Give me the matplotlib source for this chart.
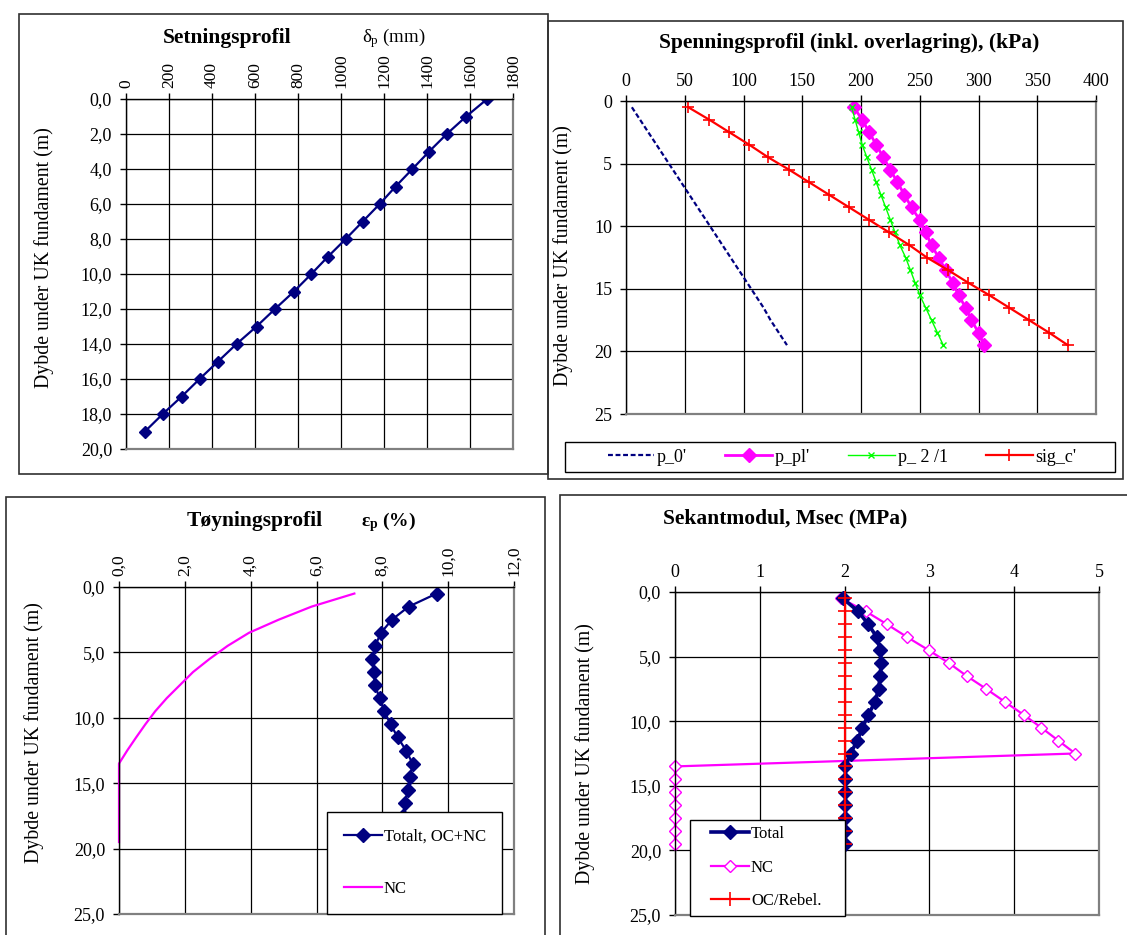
import matplotlib
matplotlib.use('Agg')
import matplotlib.pyplot as plt
from matplotlib.patches import Rectangle
from matplotlib.ticker import FuncFormatter, MultipleLocator

plt.rcParams['font.family'] = ['Liberation Serif', 'DejaVu Serif']
plt.rcParams['mathtext.fontset'] = 'custom'
plt.rcParams['mathtext.rm'] = 'Liberation Serif'
plt.rcParams['mathtext.it'] = 'Liberation Serif:italic'
plt.rcParams['mathtext.bf'] = 'Liberation Serif:bold'

# ---------------- data ----------------
# Setningsprofil
setning_depth = [0, 1, 2, 3, 4, 5, 6, 7, 8, 9, 10, 11, 12, 13, 14, 15, 16, 17, 18, 19]
setning_mm = [1680, 1582, 1492, 1410, 1332, 1254, 1180, 1101, 1022, 940,
              862, 781, 693, 607, 514, 428, 342, 259, 171, 88]

# Spenningsprofil
layer_depth = [0.5, 1.5, 2.5, 3.5, 4.5, 5.5, 6.5, 7.5, 8.5, 9.5,
               10.5, 11.5, 12.5, 13.5, 14.5, 15.5, 16.5, 17.5, 18.5, 19.5]
p0 = [5, 12, 19, 26, 33, 40, 47, 54, 61, 68, 75, 82, 89, 96, 103, 110, 117, 123, 130, 137]
ppl = [194, 201, 207, 213, 219, 225, 231, 237, 243, 250,
       255, 260, 266, 272, 278, 283, 289, 294, 300, 305]
p21 = [192, 195, 198, 201, 205, 209, 213, 217, 221, 225,
       229, 233, 238, 242, 246, 250, 255, 260, 265, 270]
sigc = [53, 71, 88, 105, 121, 139, 156, 173, 190, 207,
        224, 241, 256, 274, 291, 309, 326, 343, 360, 376]

# Toyningsprofil
strain_total = [9.65, 8.80, 8.29, 7.96, 7.78, 7.70, 7.75, 7.77, 7.92, 8.06,
                8.25, 8.47, 8.72, 8.92, 8.84, 8.77, 8.69, 8.63, 8.60, 8.58]
strain_nc = [7.15, 5.85, 4.85, 3.95, 3.30, 2.75, 2.25, 1.85, 1.45, 1.10,
             0.80, 0.52, 0.25, 0.0, 0.0, 0.0, 0.0, 0.0, 0.0, 0.0]

# Sekantmodul
msec_total = [1.98, 2.16, 2.28, 2.38, 2.42, 2.43, 2.42, 2.40, 2.36, 2.28,
              2.21, 2.15, 2.07, 2.01, 2.01, 2.01, 2.01, 2.01, 2.01, 2.01]
msec_nc = [1.96, 2.25, 2.50, 2.74, 2.99, 3.23, 3.44, 3.67, 3.89, 4.11,
           4.32, 4.52, 4.72, 0.0, 0.0, 0.0, 0.0, 0.0, 0.0, 0.0]
msec_oc = [2.0, 2.0, 2.0, 2.0, 2.0, 2.0, 2.0, 2.0, 2.0, 2.0,
           2.0, 2.0, 2.0, 2.0, 2.0, 2.0, 2.0, 2.0, 2.0, 2.0]

# ---------------- layout helpers ----------------
W, H = 1127, 935
fig = plt.figure(figsize=(W / 100, H / 100), dpi=100)
fig.patch.set_facecolor('white')


def rect(l, t, r, b):
    return [l / W, 1 - b / H, (r - l) / W, (b - t) / H]


def fx(x):
    return x / W


def fy(y):
    return 1 - y / H


def frame(l, t, r, b, color='#303030'):
    fig.patches.append(Rectangle((fx(l), fy(b)), (r - l) / W, (b - t) / H,
                                 transform=fig.transFigure, fill=False,
                                 edgecolor=color, lw=1.2, zorder=0))


def legend_box(ax, l, t, r, b):
    ax.add_patch(Rectangle((fx(l), fy(b)), (r - l) / W, (b - t) / H,
                           transform=fig.transFigure, facecolor='white',
                           edgecolor='black', lw=1.0, zorder=4.9,
                           clip_on=False))


NAVY = '#000080'
MAG = '#FF00FF'
GREEN = '#00FF00'
RED = '#FF0000'
TICK_FS = 13
TITLE_FS = 15.5
YLAB_FS = 14.3
comma = FuncFormatter(lambda v, p: f'{v:.1f}'.replace('.', ','))


def style(ax, rot=False):
    ax.set_axisbelow(True)
    ax.grid(True, color='black', lw=0.9)
    for s in ['right', 'bottom']:
        ax.spines[s].set_color('#808080')
        ax.spines[s].set_linewidth(1.6)
    for s in ['left', 'top']:
        ax.spines[s].set_color('black')
        ax.spines[s].set_linewidth(1.0)
    ax.xaxis.tick_top()
    ax.tick_params(axis='x', top=True, bottom=False, labeltop=True,
                   labelbottom=False, direction='out', length=4, width=1,
                   pad=4, labelsize=(12.5 if rot else TICK_FS),
                   labelrotation=(90 if rot else 0))
    ax.tick_params(axis='y', left=True, right=False, direction='out',
                   length=4, width=1, pad=6, labelsize=TICK_FS)


# frames
frame(19, 14, 548, 474)
frame(548, 21, 1123, 479)
frame(6, 497, 545, 945)
frame(560, 495, 1135, 945)

# ---------------- panel 1 ----------------
ax1 = fig.add_axes(rect(126, 99, 513, 449))
ax1.plot(setning_mm, setning_depth, color=NAVY, lw=1.6, marker='D', ms=6.5)
ax1.set_xlim(0, 1800)
ax1.set_ylim(20, 0)
ax1.xaxis.set_major_locator(MultipleLocator(200))
ax1.yaxis.set_major_locator(MultipleLocator(2))
ax1.yaxis.set_major_formatter(comma)
style(ax1, rot=True)
fig.text(fx(227), fy(38), 'Setningsprofil', ha='center', va='center',
         fontsize=TITLE_FS, fontweight='bold')
fig.text(fx(394), fy(38), r'δ$_\mathrm{p}$ (mm)', ha='center', va='center',
         fontsize=13.5)
fig.text(fx(44), fy(258), 'Dybde under UK fundament (m)', rotation=90,
         ha='center', va='center', fontsize=YLAB_FS)

# ---------------- panel 2 ----------------
ax2 = fig.add_axes(rect(626, 101, 1096, 414))
l_p0, = ax2.plot(p0, layer_depth, color=NAVY, lw=1.6, ls=(0, (2.2, 1.2)),
                 label="p_0'")
l_ppl, = ax2.plot(ppl, layer_depth, color=MAG, lw=2.0, marker='D', ms=7,
                  label="p_pl'")
l_p21, = ax2.plot(p21, layer_depth, color=GREEN, lw=1.0, marker='x', ms=4.5,
                  mew=1.0, label="p_ 2 /1")
l_sig, = ax2.plot(sigc, layer_depth, color=RED, lw=1.6, marker='+', ms=9,
                  mew=1.2, label="sig_c'")
ax2.set_xlim(0, 400)
ax2.set_ylim(25, 0)
ax2.xaxis.set_major_locator(MultipleLocator(50))
ax2.yaxis.set_major_locator(MultipleLocator(5))
style(ax2)
fig.text(fx(849), fy(43), 'Spenningsprofil (inkl. overlagring), (kPa)',
         ha='center', va='center', fontsize=TITLE_FS, fontweight='bold')
fig.text(fx(563), fy(256), 'Dybde under UK fundament (m)', rotation=90,
         ha='center', va='center', fontsize=YLAB_FS)
legend_box(ax2, 565, 442, 1115, 472)
leg2 = ax2.legend(handles=[l_p0, l_ppl, l_p21, l_sig],
                  loc='center', ncol=4,
                  bbox_to_anchor=(fx(842), fy(457)),
                  bbox_transform=fig.transFigure, frameon=False,
                  fontsize=13, handlelength=2.6, handletextpad=0.15,
                  columnspacing=2.1, borderaxespad=0, borderpad=0)
leg2.set_zorder(5)

# ---------------- panel 3 ----------------
ax3 = fig.add_axes(rect(119, 587, 514, 914))
l_tot3, = ax3.plot(strain_total, layer_depth, color=NAVY, lw=1.6, marker='D',
                   ms=7, label='Totalt, OC+NC', clip_on=False)
l_nc3, = ax3.plot(strain_nc, layer_depth, color=MAG, lw=1.6, label='NC',
                  clip_on=False)
ax3.set_xlim(0, 12)
ax3.set_ylim(25, 0)
ax3.xaxis.set_major_locator(MultipleLocator(2))
ax3.yaxis.set_major_locator(MultipleLocator(5))
ax3.xaxis.set_major_formatter(comma)
ax3.yaxis.set_major_formatter(comma)
style(ax3, rot=True)
fig.text(fx(255), fy(521), 'Tøyningsprofil', ha='center', va='center',
         fontsize=TITLE_FS, fontweight='bold')
fig.text(fx(389), fy(522), r'ε$_\mathbf{p}$ (%)', ha='center', va='center',
         fontsize=14, fontweight='bold')
fig.text(fx(34), fy(733), 'Dybde under UK fundament (m)', rotation=90,
         ha='center', va='center', fontsize=YLAB_FS)
leg3 = ax3.legend(handles=[l_tot3, l_nc3], loc='upper left',
                  bbox_to_anchor=(fx(327), fy(812)),
                  bbox_transform=fig.transFigure, frameon=True,
                  fancybox=False, edgecolor='black', fontsize=12,
                  handlelength=2.3, handletextpad=0.1, borderaxespad=0,
                  borderpad=1.0, labelspacing=2.2, framealpha=1)
leg3.get_frame().set_linewidth(1.0)

# ---------------- panel 4 ----------------
ax4 = fig.add_axes(rect(675, 592, 1099, 915))
l_tot4, = ax4.plot(msec_total, layer_depth, color=NAVY, lw=2.6, marker='D',
                   ms=7.5, label='Total', zorder=3, clip_on=False)
l_nc4, = ax4.plot(msec_nc, layer_depth, color=MAG, lw=1.6, marker='D', ms=6.5,
                  mfc='white', mec=MAG, mew=1.0, label='NC', zorder=2,
                  clip_on=False)
l_oc4, = ax4.plot(msec_oc, layer_depth, color=RED, lw=1.6, marker='+', ms=10,
                  mew=1.2, label='OC/Rebel.', zorder=4, clip_on=False)
ax4.set_xlim(0, 5)
ax4.set_ylim(25, 0)
ax4.xaxis.set_major_locator(MultipleLocator(1))
ax4.yaxis.set_major_locator(MultipleLocator(5))
ax4.yaxis.set_major_formatter(comma)
style(ax4)
fig.text(fx(785), fy(518), 'Sekantmodul, Msec (MPa)', ha='center',
         va='center', fontsize=TITLE_FS, fontweight='bold')
fig.text(fx(585), fy(754), 'Dybde under UK fundament (m)', rotation=90,
         ha='center', va='center', fontsize=YLAB_FS)
legend_box(ax4, 690, 820, 845, 916)
leg4 = ax4.legend(handles=[l_tot4, l_nc4, l_oc4], loc='upper left',
                  bbox_to_anchor=(fx(711), fy(826)),
                  bbox_transform=fig.transFigure, frameon=False,
                  fontsize=12, handlelength=2.3, handletextpad=0.1,
                  borderaxespad=0, borderpad=0, labelspacing=1.05)
leg4.set_zorder(5)

fig.savefig('out.png', dpi=100, facecolor='white')
